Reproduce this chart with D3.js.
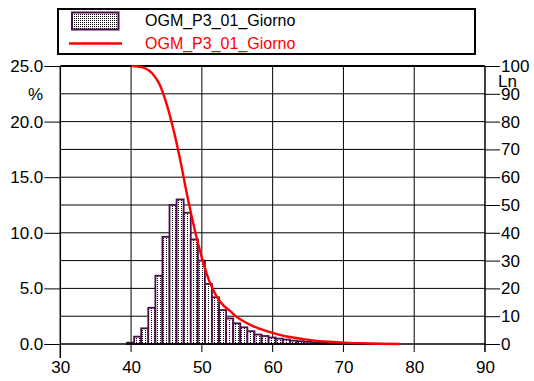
<!DOCTYPE html>
<html><head><meta charset="utf-8">
<script src="https://cdn.jsdelivr.net/npm/d3@7"></script>
<style>body{margin:0;background:#fff}svg{display:block}text{font-family:"Liberation Sans",Arial,sans-serif}</style>
</head><body>
<script>
const seriesName = "OGM_P3_01_Giorno";
const levels = [40,41,42,43,44,45,46,47,48,49,50,51,52,53,54,55,56,57,58,59,60,61,62,63,64,65,66,67,68,69,70,71,72,73,74,75,76,77];
const percent = [0.12,0.66,1.41,3.26,6.14,9.64,12.5,13.0,11.8,9.4,7.5,5.4,4.2,3.05,2.3,1.86,1.5,1.15,0.85,0.72,0.58,0.48,0.4,0.3,0.25,0.2,0.15,0.12,0.1,0.08,0.06,0.05,0.04,0.03,0.02,0.02,0.01,0.01];
const lnLevels = [40,41,42,43,44,45,46,47,48,49,50,51,52,53,54,55,56,57,58,60,62,64,66,68,70,72,75,78];
const lnValues = [100,99.8,99.2,97.3,93.5,86.5,77,65.5,52.5,41,31,23,17.5,14,11.8,9.6,8,6.7,5.6,4,2.7,1.9,1.2,0.8,0.5,0.3,0.1,0];
const xTicks = [30,40,50,60,70,80,90];
const pctTicks = [0,5,10,15,20,25];
const lnTicks = [0,10,20,30,40,50,60,70,80,90,100];
const gridPct = [2.5,5,7.5,10,12.5,15,17.5,20,22.5,25];

const W=534,H=381;
const svg=d3.select("body").append("svg").attr("width",W).attr("height",H);
const x=d3.scaleLinear().domain([30,90]).range([60.3,485]);
const yP=d3.scaleLinear().domain([0,25]).range([344,66]);
const yL=d3.scaleLinear().domain([0,100]).range([344,66]);

const defs=svg.append("defs");
const pat=defs.append("pattern").attr("id","dots").attr("patternUnits","userSpaceOnUse").attr("width",3).attr("height",2);
pat.append("rect").attr("width",3).attr("height",2).attr("fill","#fff");
pat.append("rect").attr("x",1).attr("width",1).attr("height",1).attr("fill","#000");
const pat2=defs.append("pattern").attr("id","dots2").attr("patternUnits","userSpaceOnUse").attr("width",2).attr("height",2);
pat2.append("rect").attr("width",2).attr("height",2).attr("fill","#fff");
pat2.append("rect").attr("width",1).attr("height",1).attr("fill","#000");

// grid
const g=svg.append("g");
g.selectAll(".hg").data(gridPct).join("line")
 .attr("x1",x(30)).attr("x2",x(90)).attr("y1",d=>yP(d)).attr("y2",d=>yP(d))
 .attr("stroke","#000").attr("stroke-width",d=>d===25?2:1);
g.selectAll(".vg").data(xTicks.slice(1,-1)).join("line")
 .attr("x1",d=>x(d)).attr("x2",d=>x(d)).attr("y1",yP(25)).attr("y2",yP(0)+8)
 .attr("stroke","#000").attr("stroke-width",1);

// bars
const bw=x(1)-x(0);
svg.append("g").selectAll("rect").data(levels.map((l,i)=>({l,v:percent[i]}))).join("rect")
 .attr("x",d=>x(d.l-0.5)-0.5).attr("width",bw)
 .attr("y",d=>yP(d.v)).attr("height",d=>yP(0)-yP(d.v))
 .attr("fill","url(#dots)").attr("stroke","#4a0f4a").attr("stroke-width",1.8);

// axes
const ax=svg.append("g").attr("stroke","#000");
ax.append("line").attr("x1",x(30)).attr("x2",x(90)).attr("y1",yP(0)).attr("y2",yP(0)).attr("stroke-width",1.5);
ax.append("line").attr("x1",x(30)).attr("x2",x(30)).attr("y1",yP(25)).attr("y2",yP(0)+14).attr("stroke-width",1.5);
ax.append("line").attr("x1",x(90)).attr("x2",x(90)).attr("y1",yP(25)).attr("y2",yP(0)+8).attr("stroke-width",1.5);

svg.append("g").attr("transform",`translate(${x(30)},0)`).call(d3.axisLeft(yP).tickValues(pctTicks).tickFormat(d3.format(".1f")).tickSize(16).tickPadding(1))
 .call(a=>{a.select(".domain").remove();a.selectAll("line").attr("stroke","#000");a.selectAll("text").attr("font-size",17).attr("fill","#000").attr("font-family","Liberation Sans, Arial");});
svg.append("g").attr("transform",`translate(${x(90)},0)`).call(d3.axisRight(yL).tickValues(lnTicks).tickSize(15).tickPadding(1))
 .call(a=>{a.select(".domain").remove();a.selectAll("line").attr("stroke","#000");a.selectAll("text").attr("font-size",17).attr("fill","#000").attr("font-family","Liberation Sans, Arial");});
svg.append("g").attr("transform",`translate(0,${yP(0)})`).call(d3.axisBottom(x).tickValues(xTicks).tickSize(0).tickPadding(17))
 .call(a=>{a.select(".domain").remove();a.selectAll("text").attr("font-size",17).attr("fill","#000").attr("font-family","Liberation Sans, Arial");});

svg.append("text").attr("x",43).attr("y",100).attr("text-anchor","end").attr("font-size",17).text("%");
svg.append("text").attr("x",498).attr("y",87).attr("font-size",17).text("Ln");

// line
const line=d3.line().x(d=>x(d[0])).y(d=>yL(d[1])).curve(d3.curveMonotoneX);
svg.append("path").datum(lnLevels.map((l,i)=>[l,lnValues[i]])).attr("d",line)
 .attr("fill","none").attr("stroke","#ff0000").attr("stroke-width",2.4);

// legend
const lg=svg.append("g");
lg.append("rect").attr("x",58).attr("y",9).attr("width",417).attr("height",45).attr("fill","#fff").attr("stroke","#000").attr("stroke-width",2);
lg.append("rect").attr("x",72).attr("y",12.5).attr("width",46.5).attr("height",17).attr("fill","url(#dots2)").attr("stroke","#4a0f4a").attr("stroke-width",2);
lg.append("line").attr("x1",69).attr("x2",122).attr("y1",43.5).attr("y2",43.5).attr("stroke","#ff0000").attr("stroke-width",2.4);
lg.append("text").attr("x",145).attr("y",26).attr("font-size",16).attr("fill","#000").text(seriesName);
lg.append("text").attr("x",145).attr("y",49).attr("font-size",16).attr("fill","#ff0000").text(seriesName);
</script>
</body></html>
